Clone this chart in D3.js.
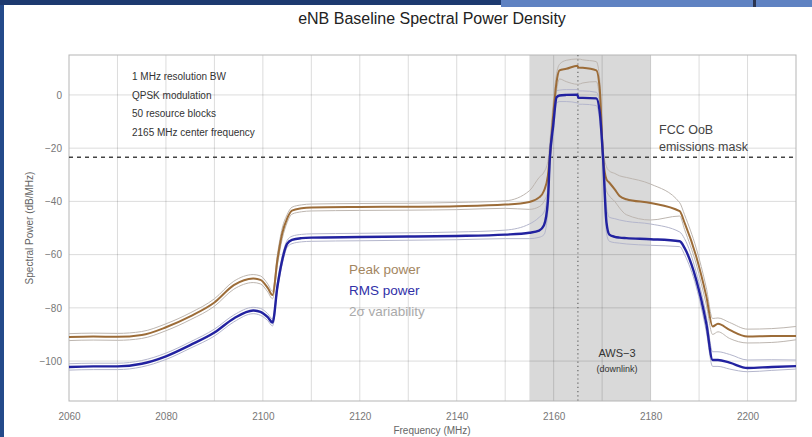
<!DOCTYPE html>
<html>
<head>
<meta charset="utf-8">
<script src="https://cdn.jsdelivr.net/npm/d3@7.9.0/dist/d3.min.js"></script>
<style>
  body { margin: 0; background: #fff; }
  svg { display: block; font-family: "Liberation Sans", Arial, sans-serif; }
</style>
</head>
<body>
<div id="chart"></div>
<script>
// frequency grid (MHz) shared by all the traces
const freq = [2060, 2065, 2070, 2075, 2080, 2085, 2090, 2094, 2098, 2099.5, 2101, 2102, 2103, 2104, 2105, 2106, 2108, 2110, 2120, 2130, 2140, 2150, 2155, 2157, 2158, 2158.8, 2159.2, 2159.9, 2160.6, 2161.2, 2162.6, 2164.9, 2165.1, 2166, 2168.8, 2169.5, 2170.2, 2170.9, 2171.5, 2172.6, 2173.6, 2175, 2180, 2186, 2187, 2189.4, 2191.5, 2192.8, 2193.9, 2196.3, 2200, 2205, 2210];

const peak = [-91, -90.8, -90.9, -90.2, -87.3, -83.2, -78, -71.5, -69, -69.5, -72.5, -75.2, -62, -52, -46.5, -43.5, -42.6, -42.3, -42.1, -42, -41.8, -41.2, -40.2, -38.5, -36, -30.4, -23.4, -7.8, 4.9, 9.2, 9.8, 11, 10.3, 10.2, 9.2, 2.3, -23.4, -31.7, -33, -35.5, -38, -39.2, -40.6, -43.7, -48, -60.6, -75.7, -87, -86, -88.3, -90.8, -90.6, -90.6];
const peakHi = [-89.7, -89.5, -89.6, -88.9, -86, -81.9, -76.6, -70, -67.5, -68, -71, -73.8, -60, -50, -45, -42.2, -41.3, -41, -40.8, -40.7, -40.4, -39.8, -36, -31, -29, -25, -18, -3, 8, 11.5, 13, 13.5, 13.5, 13.2, 12.5, 6, -20, -27, -28.6, -29.5, -30.4, -31, -33.5, -40.5, -45, -57.5, -72.5, -84, -83.8, -85.5, -88, -87.8, -87];
const peakLo = [-92.3, -92.1, -92.2, -91.5, -88.6, -84.5, -79.4, -73, -70.5, -71, -74, -76.6, -64, -54, -48, -44.8, -43.9, -43.6, -43.4, -43.3, -43.1, -42.6, -43, -42, -40, -36, -28, -12, 1.5, 6, 5, 4, 4, 4.5, 5, -2, -27, -36, -38, -40, -42.5, -45, -47, -45.5, -50.5, -63.5, -79, -90, -89, -91.5, -93.2, -93, -92];

const rms = [-102.2, -102, -102, -101, -98.2, -94, -89.3, -84, -81, -81.5, -83.5, -85.5, -72, -62, -56, -54.5, -53.8, -53.6, -53.4, -53.2, -53, -52.5, -51.8, -51, -49, -40, -24, -11.6, -0.9, -0.2, 0, 0.1, -1.1, -1.1, -1.3, -6.4, -24, -48, -52.5, -53.3, -53.6, -53.8, -54.2, -55, -57.5, -69.4, -86, -99.6, -99.6, -100.6, -102.6, -102.2, -101.9];
const rmsHi = [-101, -100.8, -100.8, -99.8, -97, -92.8, -88, -82.7, -79.8, -80.2, -82.2, -84.2, -70.5, -60.5, -54.7, -53.1, -52.4, -52.2, -52, -51.8, -51.5, -50.8, -48.5, -46, -44, -36, -20, -8, 1.5, 1.8, 2, 2, 1.5, 1.5, 1, -3, -20, -42, -46, -46.5, -47, -47.5, -48.5, -51.5, -54, -66.5, -83, -96.5, -96.5, -97.5, -99.6, -99.5, -99.6];
const rmsLo = [-103.4, -103.2, -103.2, -102.2, -99.4, -95.2, -90.6, -85.3, -82.2, -82.8, -84.8, -86.8, -73.5, -63.5, -57.3, -55.9, -55.2, -55, -54.8, -54.6, -54.4, -54, -54, -53.5, -52.5, -44, -28, -15, -3, -2.5, -2.5, -3, -3.5, -3.5, -4, -10, -28, -52, -55, -55.5, -55.7, -56, -56.5, -57, -60, -72, -89, -102, -102, -103, -104, -103.5, -103];

const xTicks = [2060, 2080, 2100, 2120, 2140, 2160, 2180, 2200];
const yTicks = [0, -20, -40, -60, -80, -100];
const notes = ['1 MHz resolution BW', 'QPSK modulation', '50 resource blocks', '2165 MHz center frequency'];
const legend = [['Peak power', '#a3865f'], ['RMS power', '#3030a8'], ['2σ variability', '#aaaaaa']];
const awsBand = [2155, 2180];
const centerFreq = 2165;
const maskLevel = -23.4;

const width = 812, height = 437;
const margin = { top: 55, right: 16, bottom: 36, left: 69 };

const svg = d3.select('#chart').append('svg')
  .attr('width', width).attr('height', height);

// slide frame around the picture
svg.append('rect').attr('x', 0).attr('y', 0).attr('width', 4).attr('height', height).attr('fill', '#244a8a');
svg.append('rect').attr('x', 0).attr('y', 0).attr('width', width).attr('height', 5).attr('fill', '#1d3a70');
svg.append('rect').attr('x', 501).attr('y', 0).attr('width', width - 501).attr('height', 7).attr('fill', '#5f82c2');
svg.append('rect').attr('x', 753).attr('y', 0).attr('width', 3).attr('height', 7).attr('fill', '#2b3550');

const x = d3.scaleLinear().domain([2060, 2210]).range([margin.left, width - margin.right]);
const y = d3.scaleLinear().domain([-115, 15]).range([height - margin.bottom, margin.top]);

svg.append('text')
  .attr('x', 432).attr('y', 24)
  .attr('text-anchor', 'middle')
  .attr('font-size', 16).attr('fill', '#222')
  .text('eNB Baseline Spectral Power Density');

// AWS-3 shading
svg.append('rect')
  .attr('x', x(awsBand[0])).attr('y', y(15))
  .attr('width', x(awsBand[1]) - x(awsBand[0]))
  .attr('height', y(-115) - y(15))
  .attr('fill', '#d9d9d9');

// grid
const grid = svg.append('g').attr('stroke', 'rgba(0,0,0,0.14)').attr('stroke-width', 1);
grid.selectAll('line.v').data(d3.range(2070, 2210, 10)).join('line')
  .attr('x1', d => x(d)).attr('x2', d => x(d))
  .attr('y1', y(15)).attr('y2', y(-115));
grid.selectAll('line.h').data(yTicks).join('line')
  .attr('x1', x(2060)).attr('x2', x(2210))
  .attr('y1', d => y(d)).attr('y2', d => y(d));

// frame
svg.append('rect')
  .attr('x', x(2060)).attr('y', y(15))
  .attr('width', x(2210) - x(2060)).attr('height', y(-115) - y(15))
  .attr('fill', 'none').attr('stroke', '#b5b5b5');

// axes
const xAxis = svg.append('g')
  .attr('transform', `translate(0, ${y(-115)})`)
  .call(d3.axisBottom(x).tickValues(xTicks).tickSize(0).tickPadding(12).tickFormat(d3.format('d')));
const yAxis = svg.append('g')
  .attr('transform', `translate(${x(2060)}, 0)`)
  .call(d3.axisLeft(y).tickValues(yTicks).tickSize(0).tickPadding(7).tickFormat(d => d < 0 ? '\u2212' + Math.abs(d) : d));
[xAxis, yAxis].forEach(g => {
  g.select('.domain').remove();
  g.selectAll('text').attr('fill', '#777').attr('font-size', 10)
    .attr('font-family', '"Liberation Sans", Arial, sans-serif');
});

svg.append('text')
  .attr('x', 432).attr('y', 434)
  .attr('text-anchor', 'middle').attr('font-size', 10).attr('fill', '#666')
  .text('Frequency (MHz)');
svg.append('text')
  .attr('transform', `translate(33, ${y(-50)}) rotate(-90)`)
  .attr('text-anchor', 'middle').attr('font-size', 10).attr('fill', '#666')
  .text('Spectral Power (dB/MHz)');

// centre frequency and mask
svg.append('line')
  .attr('x1', x(centerFreq)).attr('x2', x(centerFreq))
  .attr('y1', y(15)).attr('y2', y(-115))
  .attr('stroke', '#666').attr('stroke-width', 1.2).attr('stroke-dasharray', '1.2,3');
svg.append('line')
  .attr('x1', x(2060)).attr('x2', x(2210))
  .attr('y1', y(maskLevel)).attr('y2', y(maskLevel))
  .attr('stroke', '#444').attr('stroke-width', 1.4).attr('stroke-dasharray', '4,4');

// traces (smoothed between the read points)
const line = vals => d3.line().curve(d3.curveMonotoneX)
  .x((d, i) => x(freq[i])).y(d => y(d))(vals);
const plot = svg.append('g').attr('fill', 'none').attr('stroke-linejoin', 'round');
[[peakHi, '#bdb6b0'], [peakLo, '#bdb6b0'], [rmsHi, '#b4b6cc'], [rmsLo, '#b4b6cc']].forEach(([v, c]) => {
  plot.append('path').attr('d', line(v)).attr('stroke', c).attr('stroke-width', 1);
});
plot.append('path').attr('d', line(peak)).attr('stroke', '#9c6c38').attr('stroke-width', 2);
plot.append('path').attr('d', line(rms)).attr('stroke', '#2222a0').attr('stroke-width', 2.4);

// annotations
svg.append('g').selectAll('text').data(notes).join('text')
  .attr('x', 132).attr('y', (d, i) => 80 + i * 18.7)
  .attr('font-size', 10).attr('fill', '#333')
  .text(d => d);

svg.append('g').selectAll('text').data(legend).join('text')
  .attr('x', 349).attr('y', (d, i) => 274 + i * 21)
  .attr('font-size', 13.5).attr('fill', d => d[1])
  .text(d => d[0]);

const fcc = svg.append('text').attr('font-size', 12.5).attr('fill', '#444');
fcc.append('tspan').attr('x', 659).attr('y', 134).text('FCC OoB');
fcc.append('tspan').attr('x', 659).attr('y', 151).text('emissions mask');

svg.append('text').attr('x', 617).attr('y', 357).attr('text-anchor', 'middle')
  .attr('font-size', 11).attr('fill', '#333').text('AWS\u22123');
svg.append('text').attr('x', 617).attr('y', 372).attr('text-anchor', 'middle')
  .attr('font-size', 9).attr('fill', '#333').text('(downlink)');
</script>
</body>
</html>
